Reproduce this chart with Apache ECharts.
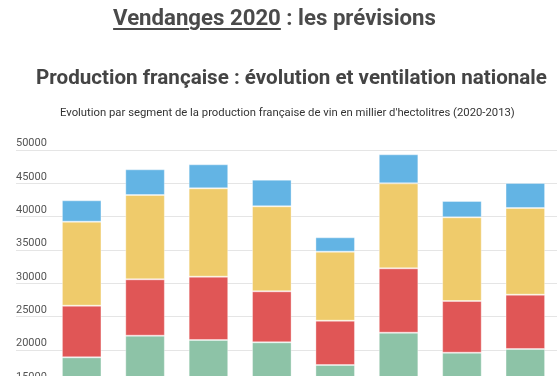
<!DOCTYPE html>
<html>
<head>
<meta charset="utf-8">
<script src="https://cdn.jsdelivr.net/npm/echarts@6/dist/echarts.min.js"></script>
<style>
  html, body { margin: 0; padding: 0; background: #fff; width: 557px; height: 389px; overflow: hidden; }
  .h1 { position: absolute; left: 0; width: 557px; top: 4px; text-align: center; font-family: Roboto, sans-serif; font-weight: 700; font-size: 22.2px; line-height: 27px; color: #4a4a4a; margin: 0; padding-right: 8px; box-sizing: border-box; }
  .h1 u { text-decoration-thickness: 2px; text-underline-offset: 3px; }
  .h2 { position: absolute; left: 0; width: 557px; top: 65px; text-align: center; font-family: Roboto, sans-serif; font-weight: 700; font-size: 20.6px; line-height: 24px; color: #444; margin: 0; padding-left: 26px; box-sizing: border-box; }
  #wrap { position: absolute; left: 0; top: 0; width: 557px; height: 376px; overflow: hidden; }
  #chart { position: absolute; left: 0; top: 0; width: 557px; height: 520px; }
</style>
</head>
<body>
<div id="wrap"><div id="chart"></div></div>
<div class="h1"><u>Vendanges 2020</u> : les prévisions</div>
<div class="h2">Production française : évolution et ventilation nationale</div>
<script>
const categories = ['2013', '2014', '2015', '2016', '2017', '2018', '2019', '2020'];
const seriesNames = ['AOP', 'Vins pour eaux-de-vie', 'IGP', 'Vins sans IG'];
const greenValues = [18900, 22150, 21500, 21150, 17750, 22600, 19600, 20150];
const redValues = [7750, 8450, 9500, 7650, 6650, 9650, 7750, 8150];
const yellowValues = [12600, 12650, 13250, 12750, 10350, 12750, 12550, 13000];
const blueValues = [3200, 3850, 3600, 4000, 2150, 4350, 2450, 3750];
const yTicks = { min: 0, max: 50000, interval: 5000 };
const subtitle = "Evolution par segment de la production française de vin en millier d'hectolitres (2020-2013)";

const colors = ['#8dc3a7', '#e05656', '#efcb6b', '#63b4e4'];
const valueSets = [greenValues, redValues, yellowValues, blueValues];

const chart = echarts.init(document.getElementById('chart'), null, { renderer: 'canvas' });
chart.setOption({
  animation: false,
  title: {
    text: subtitle,
    left: 55,
    top: 103,
    textStyle: { fontFamily: 'Roboto', fontSize: 11.3, fontWeight: 'normal', color: '#333' }
  },
  grid: { left: 50, right: 0, top: 150, bottom: 36.67, containLabel: false },
  xAxis: {
    type: 'category',
    data: categories,
    axisLine: { show: false },
    axisTick: { show: false },
    axisLabel: { fontFamily: 'Roboto', fontSize: 11, color: '#666' }
  },
  yAxis: {
    type: 'value',
    min: yTicks.min,
    max: yTicks.max,
    interval: yTicks.interval,
    axisLine: { show: false },
    axisTick: { show: true, length: 34, lineStyle: { color: '#e5e5e5', width: 1 } },
    splitLine: { show: true, lineStyle: { color: '#e5e5e5', width: 1 } },
    axisLabel: {
      margin: 34, align: 'left', verticalAlign: 'bottom', padding: [0, 0, 1, 0],
      fontFamily: 'Roboto', fontSize: 11, color: '#555',
      formatter: (v) => String(v)
    }
  },
  series: valueSets.map((vals, i) => ({
    name: seriesNames[i],
    type: 'bar',
    stack: 'total',
    barWidth: '62.4%',
    data: vals,
    itemStyle: { color: colors[i], borderColor: 'rgba(255,255,255,0.35)', borderWidth: 1 }
  }))
});
</script>
</body>
</html>
